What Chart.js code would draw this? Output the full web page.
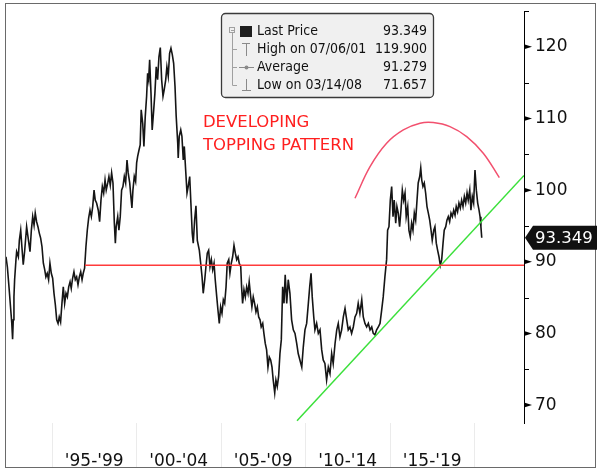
<!DOCTYPE html>
<html>
<head>
<meta charset="utf-8">
<script src="https://cdn.jsdelivr.net/npm/chart.js@4.4.1/dist/chart.umd.min.js"></script>
<style>
  html, body { margin: 0; padding: 0; background: #fff; }
  #wrap { width: 600px; height: 473px; }
</style>
</head>
<body>
<div id="wrap"><canvas id="price-chart" width="600" height="473"></canvas></div>
<script>
const FONT = '"DejaVu Sans", Verdana, sans-serif';
const FONT_NARROW = '"DejaVu Sans Condensed", "DejaVu Sans", sans-serif';

// weekly close (decimal years)
const years = [
  1992.28,1992.36,1992.47,1992.56,1992.62,1992.67,1992.71,1992.75,1992.79,1992.87,
  1992.91,1993.01,1993.07,1993.15,1993.22,1993.30,1993.38,1993.50,1993.62,1993.70,
  1993.78,1993.86,1993.94,1994.01,1994.09,1994.17,1994.25,1994.33,1994.41,1994.49,
  1994.57,1994.64,1994.72,1994.80,1994.88,1994.96,1995.04,1995.12,1995.20,1995.28,
  1995.36,1995.43,1995.51,1995.59,1995.67,1995.75,1995.83,1995.91,1995.99,1996.07,
  1996.14,1996.22,1996.30,1996.38,1996.46,1996.54,1996.62,1996.70,1996.78,1996.85,
  1996.93,1997.01,1997.09,1997.17,1997.25,1997.33,1997.41,1997.49,1997.56,1997.64,
  1997.74,1997.82,1997.90,1997.98,1998.06,1998.14,1998.21,1998.30,1998.37,1998.45,
  1998.53,1998.61,1998.69,1998.75,1998.80,1998.89,1998.96,1999.04,1999.12,1999.20,
  1999.28,1999.36,1999.44,1999.51,1999.60,1999.67,1999.73,1999.79,1999.87,1999.95,
  2000.01,2000.07,2000.15,2000.22,2000.28,2000.37,2000.44,2000.52,2000.60,2000.66,
  2000.72,2000.78,2000.86,2000.93,2001.02,2001.09,2001.17,2001.25,2001.33,2001.41,
  2001.49,2001.57,2001.64,2001.73,2001.80,2001.88,2001.96,2002.04,2002.12,2002.20,
  2002.28,2002.35,2002.44,2002.47,2002.53,2002.62,2002.69,2002.77,2002.83,2002.91,
  2002.99,2003.06,2003.15,2003.22,2003.30,2003.36,2003.44,2003.52,2003.60,2003.72,
  2003.80,2003.88,2003.95,2004.04,2004.11,2004.19,2004.27,2004.35,2004.43,2004.51,
  2004.59,2004.66,2004.75,2004.82,2004.90,2004.98,2005.06,2005.14,2005.22,2005.30,
  2005.37,2005.46,2005.53,2005.61,2005.69,2005.77,2005.85,2005.93,2006.01,2006.08,
  2006.17,2006.22,2006.28,2006.36,2006.44,2006.52,2006.60,2006.67,2006.76,2006.83,
  2006.91,2006.99,2007.07,2007.15,2007.23,2007.31,2007.38,2007.47,2007.54,2007.62,
  2007.70,2007.78,2007.86,2007.94,2008.02,2008.09,2008.18,2008.25,2008.33,2008.41,
  2008.49,2008.57,2008.65,2008.73,2008.80,2008.89,2008.98,2009.08,2009.18,2009.28,
  2009.38,2009.48,2009.57,2009.67,2009.78,2009.87,2009.97,2010.07,2010.17,2010.25,
  2010.33,2010.40,2010.49,2010.56,2010.66,2010.76,2010.86,2010.96,2011.05,2011.15,
  2011.25,2011.35,2011.45,2011.55,2011.64,2011.75,2011.85,2011.94,2012.04,2012.14,
  2012.24,2012.34,2012.44,2012.53,2012.63,2012.73,2012.83,2012.93,2013.03,2013.12,
  2013.22,2013.33,2013.42,2013.52,2013.62,2013.72,2013.82,2013.92,2014.01,2014.11,
  2014.21,2014.31,2014.41,2014.51,2014.60,2014.70,2014.80,2014.86,2014.94,2015.02,
  2015.10,2015.18,2015.25,2015.34,2015.41,2015.49,2015.57,2015.65,2015.73,2015.81,
  2015.89,2015.96,2016.05,2016.12,2016.20,2016.28,2016.36,2016.44,2016.52,2016.60,
  2016.67,2016.76,2016.82,2016.88,2016.95,2017.03,2017.11,2017.19,2017.27,2017.35,
  2017.43,2017.50,2017.59,2017.66,2017.74,2017.82,2017.90,2017.98,2018.06,2018.14,
  2018.21,2018.30,2018.37,2018.45,2018.53,2018.61,2018.69,2018.77,2018.85,2018.92,
  2019.00,2019.08,2019.16,2019.24,2019.32,2019.40,2019.48,2019.56,2019.63,2019.72,
  2019.79,2019.87,2019.95,2020.03,2020.11,2020.19,2020.27,2020.33,2020.38,2020.43
];
const prices = [
  90.7,89.3,86.1,83.3,81.5,79.2,81.9,85.1,87.5,90.3,
  91.4,90.7,93.0,94.4,92.1,89.6,91.4,94.9,92.8,91.4,
  94.4,96.3,95.1,96.8,95.6,94.9,94.0,93.3,92.1,89.8,
  88.9,87.9,88.4,87.5,89.8,88.4,87.7,85.6,84.0,81.9,
  81.4,82.3,81.6,84.2,86.5,84.2,85.6,85.1,86.5,87.2,
  86.3,87.7,88.6,87.5,87.9,86.8,87.9,88.6,87.5,88.4,
  89.1,92.1,94.4,96.1,97.2,96.3,97.7,100.0,98.6,98.2,
  97.2,95.6,98.6,100.5,99.6,101.4,100.0,101.0,101.9,100.7,
  102.4,101.0,95.4,92.6,94.9,96.3,94.4,96.3,100.0,100.5,
  101.9,101.0,104.2,102.4,101.0,99.1,97.5,100.0,101.9,101.2,
  103.8,104.7,105.6,106.3,111.2,109.3,106.1,110.3,113.1,116.3,
  115.4,118.2,113.5,108.4,111.2,113.5,117.2,115.4,118.6,119.9,
  115.4,113.1,114.0,115.4,117.2,115.9,119.1,119.8,118.9,117.7,
  114.5,110.3,106.6,104.5,107.5,108.4,107.5,104.2,106.1,102.8,
  99.6,100.5,101.9,98.2,94.0,92.6,95.8,97.8,93.0,91.6,
  89.8,87.9,85.6,87.5,89.3,91.2,91.6,89.3,90.3,88.9,
  89.8,87.5,85.1,83.3,81.4,83.7,82.8,84.7,84.2,86.5,
  89.8,90.3,88.4,89.8,90.7,92.3,91.2,90.3,90.7,89.8,
  89.3,86.5,84.2,86.1,85.1,86.5,85.6,87.2,85.1,83.7,
  85.1,84.2,83.0,83.7,82.3,81.9,80.9,81.4,80.0,78.6,
  77.7,75.3,76.7,76.3,75.3,73.5,71.7,73.5,72.6,74.0,
  77.2,79.1,86.5,84.2,88.2,84.2,87.5,85.6,81.9,80.5,
  80.0,78.6,77.2,76.3,75.3,78.1,80.5,81.4,84.2,86.5,
  88.4,85.1,82.3,80.5,81.4,80.0,80.5,77.7,76.3,75.8,
  73.5,75.3,74.4,77.2,75.8,78.6,80.5,81.4,79.5,80.5,
  82.3,83.5,81.9,80.5,80.9,80.0,80.9,82.3,82.8,84.2,
  82.8,84.7,82.3,81.4,80.9,81.4,80.5,80.9,80.0,79.8,
  80.5,80.9,81.4,83.3,85.1,87.9,90.3,94.4,94.9,98.6,
  100.5,96.3,98.6,95.4,97.7,96.8,94.9,97.2,100.0,98.6,
  99.6,96.3,97.7,94.4,93.5,95.4,94.4,96.8,95.8,98.6,
  101.0,101.9,103.1,101.4,100.5,101.0,99.6,97.7,96.8,95.8,
  94.4,93.0,94.4,94.9,92.6,91.6,90.7,89.5,90.3,92.6,
  94.4,94.9,95.8,96.3,95.6,96.8,96.3,97.2,96.5,97.7,
  97.0,98.2,97.5,98.6,97.7,99.1,98.2,99.6,98.6,100.0,
  97.2,99.1,98.2,102.8,100.0,98.2,97.2,96.3,94.9,93.349
];

// legend figures
const legendLabels = ["Last Price", "High on 07/06/01", "Average", "Low on 03/14/08"];
const legendValues = ["93.349", "119.900", "91.279", "71.657"];
const lastPrice = 93.349;

// axes
const periodLabels = ["'95-'99", "'00-'04", "'05-'09", "'10-'14", "'15-'19"];
const periodCenters = [1997.5, 2002.5, 2007.5, 2012.5, 2017.5];
const periodEdges = [1995, 2000, 2005, 2010, 2015, 2020];
const majorTicks = [70, 80, 90, 100, 110, 120];
const minorTicks = [75, 85, 95, 105, 115, 125];

// drawn annotations
const supportX = [1996.95, 2022.93];
const supportY = [89.5, 89.5];
const trendX = [2009.50, 2022.93];
const trendY = [67.8, 102.05];
const arcX = [2012.93, 2013.82, 2014.80, 2015.79, 2016.78, 2017.56, 2018.55, 2019.54, 2020.52, 2021.47];
const arcY = [98.87, 103.28, 106.55, 108.41, 109.34, 109.43, 108.87, 107.47, 105.15, 101.75];
const noteLines = ["DEVELOPING", "TOPPING PATTERN"];
const notePos = { x: 2003.93, y: 109.45 };

const toPoints = (xs, ys) => xs.map((v, i) => ({ x: v, y: ys[i] }));

const decor = {
    id: "decor",
    afterDraw(chart) {
        const { ctx, chartArea } = chart;
        const x = chart.scales.x;
        const y = chart.scales.y;
        ctx.save();

        // faint period separators under the plot
        ctx.strokeStyle = "#ebebeb";
        ctx.lineWidth = 1;
        periodEdges.forEach((v) => {
            const px = Math.round(x.getPixelForValue(v)) + 0.5;
            ctx.beginPath();
            ctx.moveTo(px, chartArea.bottom);
            ctx.lineTo(px, 467);
            ctx.stroke();
        });

        // y axis marks
        ctx.fillStyle = "#000";
        majorTicks.forEach((v) => {
            const py = y.getPixelForValue(v);
            ctx.beginPath();
            ctx.moveTo(chartArea.right, py - 2.5);
            ctx.lineTo(chartArea.right + 8, py);
            ctx.lineTo(chartArea.right, py + 2.5);
            ctx.closePath();
            ctx.fill();
        });
        ctx.strokeStyle = "#000";
        minorTicks.forEach((v) => {
            const py = Math.round(y.getPixelForValue(v)) + 0.5;
            ctx.beginPath();
            ctx.moveTo(chartArea.right, py);
            ctx.lineTo(chartArea.right + 5, py);
            ctx.stroke();
        });

        // outer frame
        ctx.strokeStyle = "#6a6a6a";
        ctx.lineWidth = 1;
        ctx.strokeRect(5.5, 3.5, 590, 464);

        // red note
        ctx.fillStyle = "#ff1f1f";
        ctx.font = "16.5px " + FONT;
        ctx.textBaseline = "middle";
        ctx.textAlign = "left";
        const nx = x.getPixelForValue(notePos.x);
        const ny = y.getPixelForValue(notePos.y);
        noteLines.forEach((t, i) => ctx.fillText(t, nx, ny + i * 23));

        // legend box
        ctx.beginPath();
        ctx.roundRect(221.5, 13.5, 212, 84, 4);
        ctx.fillStyle = "#f0f0f0";
        ctx.fill();
        ctx.strokeStyle = "#3a3a3a";
        ctx.lineWidth = 1.3;
        ctx.stroke();

        const rows = [31.5, 49.3, 67.1, 84.9];
        ctx.strokeStyle = "#a0a0a0";
        ctx.lineWidth = 1;
        ctx.strokeRect(229.5, 27.5, 5, 5);
        ctx.beginPath();
        ctx.moveTo(231, 30.5); ctx.lineTo(234, 30.5);
        ctx.moveTo(232.5, 33); ctx.lineTo(232.5, rows[3] + 0.5);
        rows.slice(1).forEach((r) => { ctx.moveTo(232.5, Math.round(r) + 0.5); ctx.lineTo(237, Math.round(r) + 0.5); });
        ctx.stroke();

        ctx.fillStyle = "#1e1e1e";
        ctx.fillRect(240, 26, 12, 11);
        ctx.strokeStyle = "#8a8a8a";
        ctx.beginPath();
        ctx.moveTo(242, 43.5); ctx.lineTo(250, 43.5);
        ctx.moveTo(246.5, 43.5); ctx.lineTo(246.5, 56);
        ctx.moveTo(239, 67.5); ctx.lineTo(254, 67.5);
        ctx.moveTo(246.5, 79); ctx.lineTo(246.5, 90.5);
        ctx.moveTo(242, 90.5); ctx.lineTo(251, 90.5);
        ctx.stroke();
        ctx.fillStyle = "#8a8a8a";
        ctx.beginPath();
        ctx.arc(246.5, 67.5, 2, 0, Math.PI * 2);
        ctx.fill();

        ctx.fillStyle = "#111";
        ctx.font = "14px " + FONT_NARROW;
        legendLabels.forEach((t, i) => {
            ctx.textAlign = "left";
            ctx.fillText(t, 257, rows[i]);
            ctx.textAlign = "right";
            ctx.fillText(legendValues[i], 427, rows[i]);
        });

        // last price tag
        const ty = y.getPixelForValue(lastPrice);
        ctx.fillStyle = "#111";
        ctx.beginPath();
        ctx.moveTo(chartArea.right + 1, ty);
        ctx.lineTo(chartArea.right + 9, ty - 12);
        ctx.lineTo(597, ty - 12);
        ctx.lineTo(597, ty + 12);
        ctx.lineTo(chartArea.right + 9, ty + 12);
        ctx.closePath();
        ctx.fill();
        ctx.fillStyle = "#fff";
        ctx.font = "16.5px " + FONT;
        ctx.textAlign = "left";
        ctx.fillText(lastPrice.toFixed(3), chartArea.right + 11, ty + 1);

        ctx.restore();
    }
};

const priceChart = new Chart(document.getElementById("price-chart"), {
    type: "line",
    data: {
        datasets: [
            {
                label: "Last Price",
                data: toPoints(years, prices),
                borderColor: "#151515",
                borderWidth: 1.6,
                pointRadius: 0,
                tension: 0,
                order: 2,
            },
            {
                label: "Support",
                data: toPoints(supportX, supportY),
                borderColor: "#ff3b3b",
                borderWidth: 1.5,
                pointRadius: 0,
                order: 1,
            },
            {
                label: "Trend",
                data: toPoints(trendX, trendY),
                borderColor: "#3be03b",
                borderWidth: 1.5,
                pointRadius: 0,
                order: 1,
            },
            {
                label: "Top",
                data: toPoints(arcX, arcY),
                borderColor: "#f2506e",
                borderWidth: 1.5,
                pointRadius: 0,
                tension: 0.4,
                order: 1,
            },
        ],
    },
    options: {
        responsive: false,
        animation: false,
        events: [],
        layout: { padding: { left: 6, top: 11, right: 0, bottom: 0 } },
        plugins: {
            legend: { display: false },
            tooltip: { enabled: false },
        },
        scales: {
            x: {
                type: "linear",
                min: 1992.28,
                max: 2022.93,
                afterBuildTicks: (scale) => {
                    scale.ticks = periodCenters.map((v) => ({ value: v }));
                },
                afterFit: (scale) => {
                    scale.height = 50;
                    scale.paddingLeft = 0;
                    scale.paddingRight = 0;
                },
                grid: { display: false, drawTicks: false },
                border: { display: false },
                ticks: {
                    autoSkip: false,
                    maxRotation: 0,
                    padding: 28,
                    color: "#111",
                    font: { family: FONT, size: 17 },
                    callback: (value, index) => periodLabels[index],
                },
            },
            y: {
                type: "linear",
                position: "right",
                min: 67.5,
                max: 125,
                afterBuildTicks: (scale) => {
                    scale.ticks = majorTicks.map((v) => ({ value: v }));
                },
                afterFit: (scale) => {
                    scale.width = 76;
                    scale.paddingTop = 0;
                    scale.paddingBottom = 0;
                },
                grid: { display: false, drawTicks: false },
                border: { display: true, color: "#000", width: 1 },
                ticks: {
                    padding: 11,
                    color: "#111",
                    font: { family: FONT, size: 17 },
                    callback: (value) => String(value),
                },
            },
        },
    },
    plugins: [decor],
});
</script>
</body>
</html>
